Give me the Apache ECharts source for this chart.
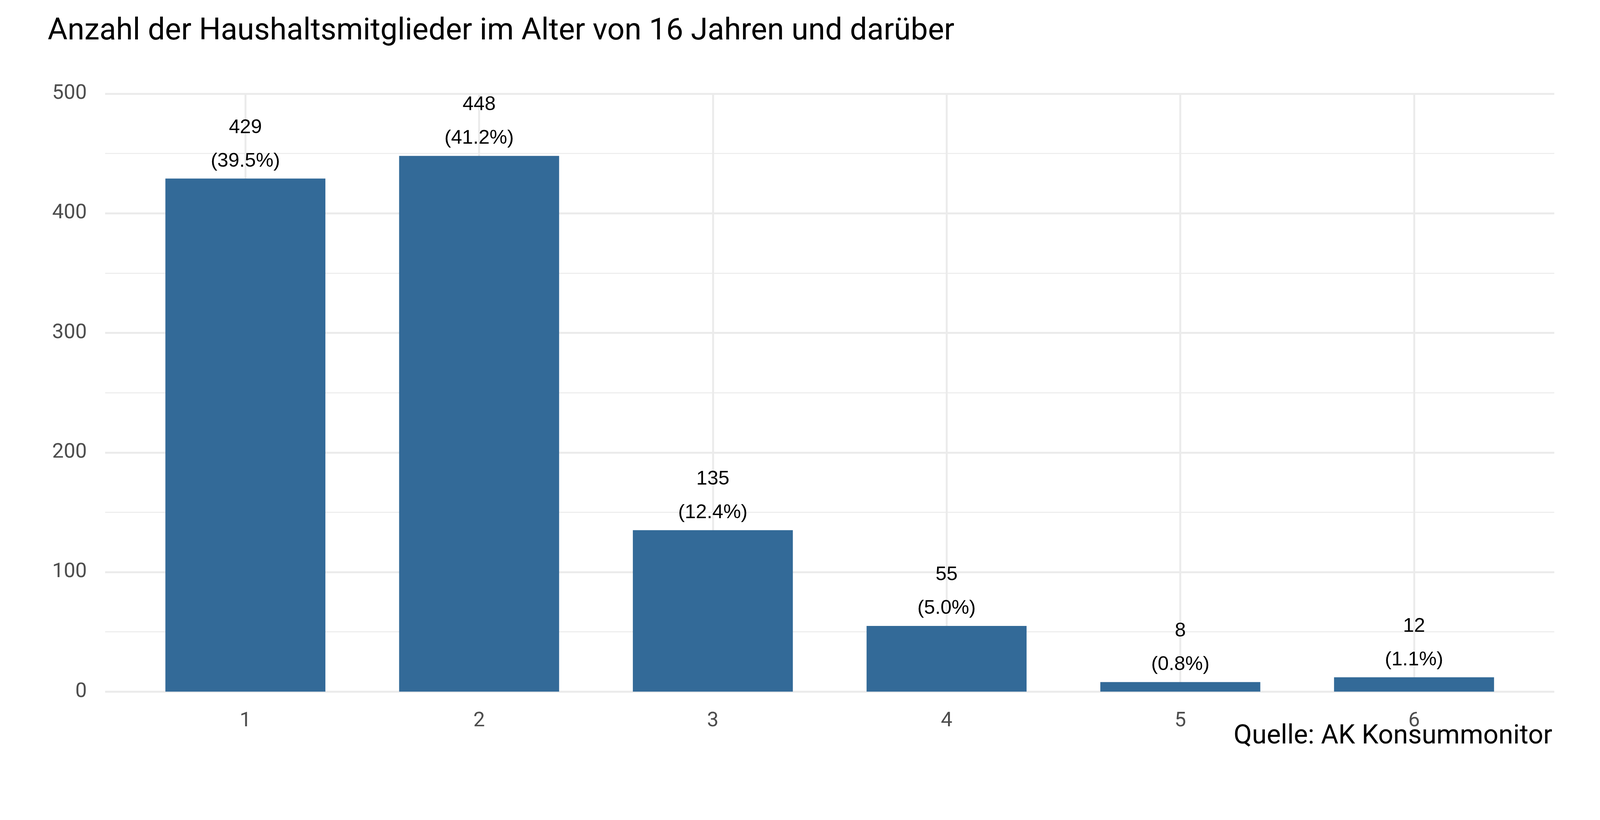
<!DOCTYPE html>
<html><head><meta charset="utf-8">
<script src="https://cdn.jsdelivr.net/npm/echarts@6/dist/echarts.min.js"></script>
<style>html,body{margin:0;padding:0;background:#fff;overflow:hidden}#c{width:100vw;height:100vh}</style>
</head><body><div id="c"></div>
<script>
const categories = [1, 2, 3, 4, 5, 6];
const counts = [429, 448, 135, 55, 8, 12];
const percents = ['39.5%', '41.2%', '12.4%', '5.0%', '0.8%', '1.1%'];

const s = window.innerWidth / 4200;
const chart = echarts.init(document.getElementById('c'));
chart.setOption({
  backgroundColor: '#fff',
  animation: false,
  title: [
    {text: 'Anzahl der Haushaltsmitglieder im Alter von 16 Jahren und darüber', left: 120 * s, top: 38 * s,
     textStyle: {fontFamily: 'Roboto', fontSize: 80 * s, fontWeight: 'normal', color: '#000'}},
    {text: 'Quelle: AK Konsummonitor', right: 120 * s, top: 1895 * s,
     textStyle: {fontFamily: 'Roboto', fontSize: 70 * s, fontWeight: 'normal', color: '#000'}}
  ],
  grid: {left: 276 * s, right: 120 * s, top: 246 * s, bottom: 337 * s},
  xAxis: {
    type: 'value', min: 0.4, max: 6.6,
    axisLine: {show: false}, axisTick: {show: false}, splitLine: {show: false},
    axisLabel: {customValues: categories, margin: 50 * s, fontFamily: 'Roboto', fontSize: 54 * s, color: '#4d4d4d'}
  },
  yAxis: {
    type: 'value', min: 0, max: 500, interval: 100,
    axisLine: {show: false}, axisTick: {show: false},
    axisLabel: {margin: 48 * s, fontFamily: 'Roboto', fontSize: 54 * s, color: '#4d4d4d'},
    splitLine: {lineStyle: {color: '#ebebeb', width: 5 * s}},
    minorTick: {show: false, splitNumber: 2},
    minorSplitLine: {show: true, lineStyle: {color: '#ebebeb', width: 2.5 * s}}
  },
  series: [
    {type: 'line', data: [], z: 0, silent: true,
     markLine: {silent: true, z: 0, symbol: 'none', label: {show: false}, animation: false,
       lineStyle: {color: '#ebebeb', width: 5 * s, type: 'solid'},
       data: categories.map(c => ({xAxis: c}))}},
    {type: 'bar', z: 10, barWidth: 420 * s,
     itemStyle: {color: '#336a98'},
     data: categories.map((c, i) => [c, counts[i]]),
     label: {show: true, position: 'top', distance: 2 * s,
       formatter: p => counts[p.dataIndex] + '\n(' + percents[p.dataIndex] + ')',
       fontFamily: 'Liberation Sans', fontSize: 52 * s, lineHeight: 88 * s, color: '#000'}}
  ]
});
</script></body></html>
